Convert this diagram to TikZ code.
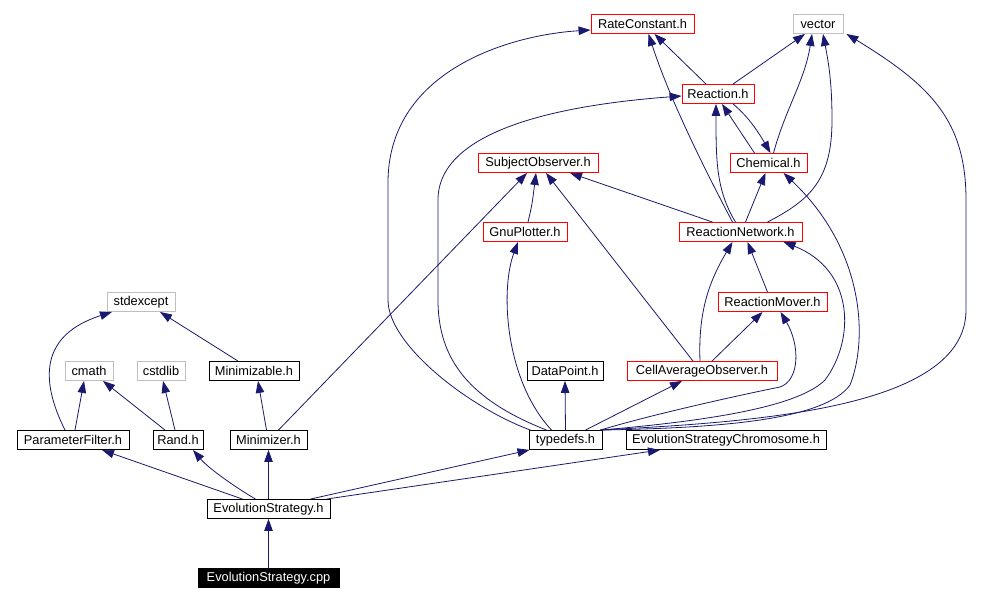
\documentclass[tikz,border=0pt]{standalone}
\usepackage{fontspec}
\setmainfont{Liberation Sans}
\usetikzlibrary{arrows.meta,calc}
\definecolor{edgeblue}{HTML}{191970}
\definecolor{redbd}{HTML}{FF0000}
\definecolor{graybd}{HTML}{BFBFBF}
\begin{document}
\begin{tikzpicture}[x=1pt,y=-1pt,
  box/.style={draw=black,line width=0.9pt,fill=white,rectangle,inner sep=0pt,minimum height=19pt,font=\fontsize{12.8}{14}\selectfont},
  redbox/.style={box,draw=redbd},
  graybox/.style={box,draw=graybd},
  blackbox/.style={box,fill=black,text=white},
  dep/.style={draw=edgeblue,line width=0.8pt,-{Triangle[length=12pt,width=8.5pt]},fill=none},
]
\useasboundingbox[fill=white] (0,0) rectangle (993,603);
% nodes
\node[redbox,minimum width=103pt] (RC) at (642.5,24) {RateConstant.h};
\node[graybox,minimum width=50pt] (vector) at (818,24) {vector};
\node[redbox,minimum width=72pt] (Reaction) at (718,94) {Reaction.h};
\node[redbox,minimum width=77pt] (Chem) at (768.5,163) {Chemical.h};
\node[redbox,minimum width=120pt] (SO) at (538,163) {SubjectObserver.h};
\node[redbox,minimum width=84pt] (Gnu) at (525,232) {GnuPlotter.h};
\node[redbox,minimum width=123pt] (RN) at (740.5,232) {ReactionNetwork.h};
\node[redbox,minimum width=109pt] (RM) at (772.5,302) {ReactionMover.h};
\node[graybox,minimum width=68pt] (stdexcept) at (141,302) {stdexcept};
\node[graybox,minimum width=48pt] (cmath) at (89,371) {cmath};
\node[graybox,minimum width=48pt] (cstdlib) at (161,371) {cstdlib};
\node[box,minimum width=90pt] (Minimizable) at (254,371) {Minimizable.h};
\node[box,minimum width=76pt] (DataPoint) at (565,371) {DataPoint.h};
\node[redbox,minimum width=150pt] (CAO) at (702,371) {CellAverageObserver.h};
\node[box,minimum width=112pt] (PF) at (73,440) {ParameterFilter.h};
\node[box,minimum width=50pt] (Rand) at (178,440) {Rand.h};
\node[box,minimum width=77pt] (Minimizer) at (268.5,440) {Minimizer.h};
\node[box,minimum width=73pt] (typedefs) at (565.5,440) {typedefs.h};
\node[box,minimum width=200pt] (ESC) at (726,440) {EvolutionStrategyChromosome.h};
\node[box,minimum width=123pt] (ESh) at (268.5,509) {EvolutionStrategy.h};
\node[blackbox,minimum width=141pt] (cpp) at (268.5,578) {EvolutionStrategy.cpp};
% edges
\draw[dep] (cpp.north) -- (ESh.south);
\draw[dep] ($(ESh.north)+(-26,0)$) -- ($(PF.south)+(29,0)$);
\draw[dep] ($(ESh.north)+(-13,0)$) .. controls (240,490) and (210,470) .. ($(Rand.south)+(15,0)$);
\draw[dep] (ESh.north) -- (Minimizer.south);
\draw[dep] ($(ESh.north)+(42,0)$) -- ($(typedefs.south)+(-36,0)$);
\draw[dep] ($(ESh.north)+(58,0)$) -- ($(ESC.south)+(-66,0)$);
\draw[dep] ($(PF.north)+(-8,0)$) .. controls (40,380) and (40,335) .. ($(stdexcept.south)+(-29,0)$);
\draw[dep] ($(PF.north)+(2,0)$) -- ($(cmath.south)+(-5,0)$);
\draw[dep] ($(Rand.north)+(-13,0)$) -- ($(cmath.south)+(14,0)$);
\draw[dep] ($(Rand.north)+(-3,0)$) -- ($(cstdlib.south)+(2,0)$);
\draw[dep] ($(Minimizer.north)+(-2,0)$) -- ($(Minimizable.south)+(4,0)$);
\draw[dep] ($(Minimizer.north)+(10,0)$) -- ($(SO.south)+(-11,0)$);
\draw[dep] ($(Minimizable.north)+(-16,0)$) -- ($(stdexcept.south)+(19,0)$);
\draw[dep] (typedefs.north) -- (DataPoint.south);
\draw[dep] ($(typedefs.north)+(20,0)$) -- ($(CAO.south)+(-20,0)$);
\draw[dep] ($(typedefs.north)+(-14,0)$) .. controls (505,380) and (500,290) .. ($(Gnu.south)+(-7,0)$);
\draw[dep] ($(typedefs.north)+(-35,0)$) .. controls (470,408) and (388,345) .. (388,300) -- (388,180) .. controls (390,70) and (510,35) .. ($(RC.west)+(0,6)$);
\draw[dep] ($(typedefs.north)+(-19,0)$) .. controls (470,400) and (438,360) .. (438,300) -- (438,200) .. controls (438,130) and (560,105) .. ($(Reaction.west)+(0,2)$);
\draw[dep] ($(typedefs.north east)+(-2,0)$) .. controls (650,415) and (740,395) .. (780,387) .. controls (800,380) and (800,345) .. ($(RM.south)+(8,0)$);
\draw[dep] ($(typedefs.north east)+(-2,0)$) .. controls (720,420) and (800,405) .. (825,380) .. controls (855,340) and (855,270) .. ($(RN.south)+(43,0)$);
\draw[dep] ($(typedefs.north east)+(-2,0)$) .. controls (720,428) and (825,420) .. (850,385) .. controls (868,340) and (865,250) .. ($(Chem.south)+(15,0)$);
\draw[dep] ($(typedefs.north east)+(-2,0)$) .. controls (750,422) and (966,410) .. (966,310) -- (966,200) .. controls (966,120) and (930,85) .. ($(vector.south east)+(3,0)$);
\draw[dep] ($(Gnu.north)+(3,0)$) .. controls (532,205) .. ($(SO.south)+(-2,0)$);
\draw[dep] ($(CAO.north)+(-9,0)$) -- ($(SO.south)+(8,0)$);
\draw[dep] ($(CAO.north)+(-2,0)$) .. controls (698,310) and (710,280) .. ($(RN.south)+(-8,0)$);
\draw[dep] ($(CAO.north)+(10,0)$) -- ($(RM.south)+(-10,0)$);
\draw[dep] ($(RM.north)+(-5,0)$) -- ($(RN.south)+(7,0)$);
\draw[dep] ($(RN.north)+(-28,0)$) -- ($(SO.south)+(32,0)$);
\draw[dep] ($(RN.north)+(-8,0)$) .. controls (705,170) and (670,100) .. ($(RC.south)+(6,0)$);
\draw[dep] ($(RN.north)+(-5,0)$) .. controls (716,190) and (716,160) .. ($(Reaction.south)+(-2,0)$);
\draw[dep] ($(RN.north)+(5,0)$) -- ($(Chem.south)+(-3,0)$);
\draw[dep] ($(RN.north)+(27,0)$) .. controls (810,200) and (832,180) .. (832,120) .. controls (832,80) and (828,60) .. ($(vector.south)+(5,0)$);
\draw[dep] ($(Reaction.north)+(-12,0)$) -- ($(RC.south)+(12,0)$);
\draw[dep] ($(Reaction.north)+(15,0)$) -- ($(vector.south)+(-13,0)$);
\draw[dep] ($(Reaction.south)+(15,0)$) .. controls (750,118) and (760,135) .. ($(Chem.north)+(2,0)$);
\draw[dep] ($(Chem.north)+(-14,0)$) -- ($(Reaction.south)+(4,0)$);
\draw[dep] ($(Chem.north)+(5,0)$) .. controls (785,110) and (805,80) .. ($(vector.south)+(-6,0)$);
\end{tikzpicture}
\end{document}
